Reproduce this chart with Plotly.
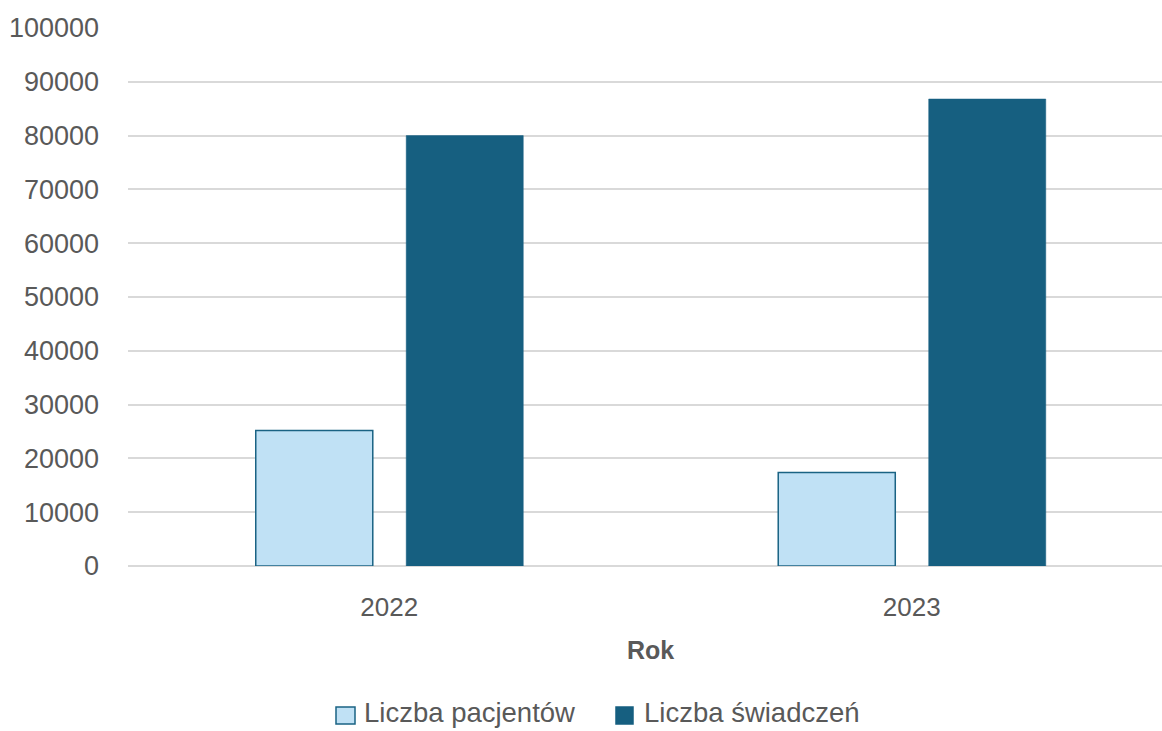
import plotly.graph_objects as go

# Dane: liczba pacjentów i świadczeń w kolejnych latach
years = ["2022", "2023"]
patients = [25200, 17400]
services = [80000, 86800]
y_ticks = [0, 10000, 20000, 30000, 40000, 50000, 60000, 70000, 80000, 90000, 100000]
series_names = ["Liczba pacjentów", "Liczba świadczeń"]

FONT = "Liberation Sans, Arial, sans-serif"
GREY = "#595959"
LIGHT = "#c0e1f5"
DARK = "#165f80"
EDGE = "#1a6384"

W, H = 1162, 731
ML, MR, MT, MB = 128, 0, 28, 165
PW, PH = W - ML - MR, H - MT - MB


def px_x(px):
    return (px - ML) / PW


def px_y(py):
    return (H - MB - py) / PH


fig = go.Figure()
fig.add_trace(go.Bar(
    x=years, y=patients, name=series_names[0],
    marker=dict(color=LIGHT, line=dict(color=EDGE, width=1.5)),
    width=0.224, offset=-0.2555, showlegend=False,
))
fig.add_trace(go.Bar(
    x=years, y=services, name=series_names[1],
    marker=dict(color=DARK, line=dict(color=DARK, width=0.5)),
    width=0.224, offset=0.0325, showlegend=False,
))

fig.update_layout(
    width=W, height=H,
    margin=dict(l=ML, r=MR, t=MT, b=MB),
    paper_bgcolor="white", plot_bgcolor="white",
    barmode="overlay",
    font=dict(family=FONT, size=26, color=GREY),
    xaxis=dict(
        type="category", range=[-0.5, 1.479],
        showgrid=False, showline=False, zeroline=False,
        ticks="", ticklabelstandoff=23,
        tickfont=dict(size=26, color=GREY),
    ),
    yaxis=dict(
        range=[0, 100000], tickvals=y_ticks,
        ticktext=[str(v) for v in y_ticks],
        showgrid=True, gridcolor="#d9d9d9", gridwidth=1.5,
        zeroline=True, zerolinecolor="#d9d9d9", zerolinewidth=1.5,
        showline=False, ticks="", ticklabelstandoff=28,
        tickfont=dict(size=27, color=GREY),
    ),
)

# Tytuł osi X wyśrodkowany pod kategoriami
fig.add_annotation(
    text="<b>Rok</b>", x=0.5, xref="x", y=px_y(650), yref="paper",
    showarrow=False, font=dict(size=25, color=GREY, family=FONT),
    yanchor="middle",
)

# Legenda pod wykresem: kwadraty i opisy serii
legend_items = [
    (series_names[0], LIGHT, EDGE, 336, 355, 362),
    (series_names[1], DARK, DARK, 616, 633, 642),
]
for label, fill, line_col, sx0, sx1, tx in legend_items:
    fig.add_shape(
        type="rect", xref="paper", yref="paper",
        x0=px_x(sx0), x1=px_x(sx1), y0=px_y(724), y1=px_y(707),
        fillcolor=fill, line=dict(color=line_col, width=1.5),
    )
    fig.add_annotation(
        text=label, xref="paper", yref="paper",
        x=px_x(tx), y=px_y(730), xanchor="left", yanchor="bottom",
        showarrow=False, font=dict(size=27.5, color=GREY, family=FONT),
    )

fig.write_html("out.html")
